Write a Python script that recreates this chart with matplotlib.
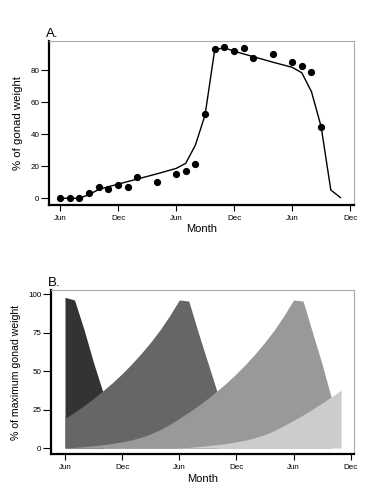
import matplotlib

matplotlib.use("Agg")
from matplotlib import pyplot as plt
import numpy as np

plt.rcParams["font.family"] = ["Liberation Sans", "DejaVu Sans"]

# Panel A: observed gonad weight and fitted curve
obs_months = [0, 1, 2, 3, 4, 5, 6, 7, 8, 10, 12, 13, 14, 15, 16, 17, 18, 19, 20, 22, 24, 25, 26, 27]
obs_values = [0.4, 0.4, 0.2, 3.1, 7.3, 6.0, 8.5, 6.9, 13.1, 10.2, 15.2, 17.2, 21.6, 52.6,
              93.3, 94.5, 92.0, 93.9, 87.5, 90.2, 85.2, 82.7, 78.5, 44.7]
fit_months = list(range(30))
fit_values = [0, 0, 0, 2.3, 5.5, 7.2, 8.8, 10.4, 12.0, 13.6, 15.2, 16.9, 18.6, 21.8, 33.2,
              52.0, 92.8, 93.8, 91.8, 90.0, 88.3, 86.6, 84.9, 83.3, 81.7, 78.3, 66.5, 44.7,
              5.2, 0.4]

# Panel B: overlapping cohorts, % of maximum gonad weight
cohort1_months = list(range(0, 5))
cohort1_values = [98, 96.3, 77, 55.5, 36]
cohort2_months = list(range(0, 17))
cohort2_values = [19.3, 23.3, 27.6, 32.3, 37.3, 42.6, 48.4, 54.7, 61.5, 68.9, 77, 86.2, 96.3,
                  95.6, 75, 55.5, 36]
cohort3_months = list(range(0, 29))
cohort3_values = [0, 0.4, 0.9, 1.5, 2.2, 3.0, 4.0, 5.3, 7.0, 9.2, 12.0, 15.4, 19.3, 23.3,
                  27.6, 32.3, 37.3, 42.6, 48.4, 54.7, 61.5, 68.9, 77, 86.2, 96.3, 95.6, 75,
                  54.5, 32]
cohort4_months = list(range(12, 30))
cohort4_values = [0, 0.4, 0.9, 1.5, 2.2, 3.0, 4.0, 5.2, 6.8, 8.8, 11.4, 14.6, 18.0, 21.5,
                  25.3, 29.3, 33.4, 37.6]
cohort_colors = ["#333333", "#666666", "#999999", "#cccccc"]

month_ticks = [0, 6, 12, 18, 24, 30]
month_labels = ["Jun", "Dec", "Jun", "Dec", "Jun", "Dec"]


def style_axis(axis, yticks):
    for side in ("top", "right"):
        axis.spines[side].set_color("#aaaaaa")
        axis.spines[side].set_linewidth(0.8)
    for side in ("left", "bottom"):
        axis.spines[side].set_color("black")
        axis.spines[side].set_linewidth(1.6)
    axis.set_xticks(month_ticks)
    axis.set_xticklabels(month_labels)
    axis.set_yticks(yticks)
    axis.tick_params(direction="out", width=0.8, labelsize=5.8)
    axis.tick_params(axis="x", length=4, pad=3.5)
    axis.tick_params(axis="y", length=5.5, pad=1.5)
    axis.set_xlabel("Month", fontsize=8, labelpad=1.5)


figure = plt.figure(figsize=(3.75, 5.0), dpi=100)
figure.patch.set_facecolor("white")

ax_a = figure.add_axes([0.1307, 0.59, 0.8133, 0.328])
ax_a.plot(fit_months, fit_values, color="black", linewidth=1.0, zorder=2)
ax_a.plot(obs_months, obs_values, "o", color="black", markersize=4.2, zorder=3)
ax_a.set_xlim(-1.14, 30.4)
ax_a.set_ylim(-4.2, 98.1)
style_axis(ax_a, [0, 20, 40, 60, 80])
ax_a.set_ylabel("% of gonad weight", fontsize=8.2, labelpad=5)
ax_a.set_title("A.", loc="left", fontsize=9.5, pad=3, x=-0.01)

ax_b = figure.add_axes([0.136, 0.092, 0.808, 0.328])
cohorts = [
    (cohort1_months, cohort1_values),
    (cohort2_months, cohort2_values),
    (cohort3_months, cohort3_values),
    (cohort4_months, cohort4_values),
]
for (months, values), color in zip(cohorts, cohort_colors):
    ax_b.fill_between(np.array(months), np.array(values), 0, color=color, linewidth=0)
ax_b.set_xlim(-1.47, 30.35)
ax_b.set_ylim(-3.9, 102.8)
style_axis(ax_b, [0, 25, 50, 75, 100])
ax_b.set_ylabel("% of maximum gonad weight", fontsize=7.6, labelpad=5)
ax_b.set_title("B.", loc="left", fontsize=9.5, pad=3, x=-0.01)

figure.savefig("out.png", dpi=100)
plt.close(figure)
